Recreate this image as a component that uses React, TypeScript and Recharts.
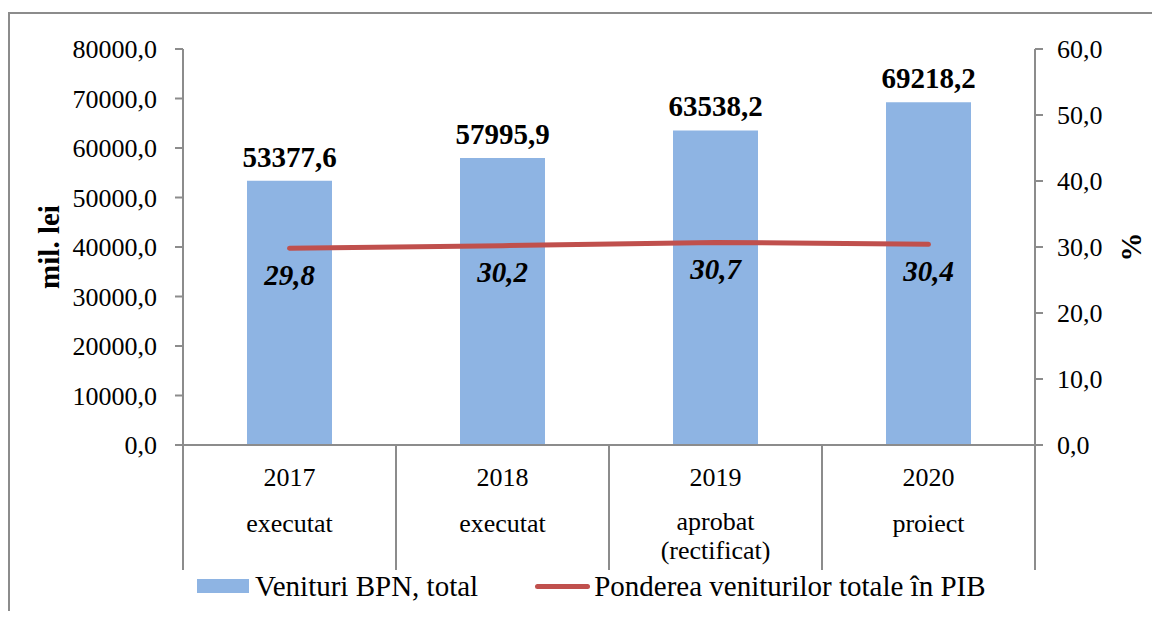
import React from 'react';
import {
  ComposedChart,
  Bar,
  Line,
  XAxis,
  YAxis,
  Legend,
  LabelList,
  Label,
} from 'recharts';

const categories = ['2017', '2018', '2019', '2020'];
const statusLabels = [['executat'], ['executat'], ['aprobat', '(rectificat)'], ['proiect']];
const revenues = [53377.6, 57995.9, 63538.2, 69218.2];
const gdpShare = [29.8, 30.2, 30.7, 30.4];
const leftTicks = [0, 10000, 20000, 30000, 40000, 50000, 60000, 70000, 80000];
const rightTicks = [0, 10, 20, 30, 40, 50, 60];
const barName = 'Venituri BPN, total';
const lineName = 'Ponderea veniturilor totale în PIB';
const leftAxisTitle = 'mil. lei';
const rightAxisTitle = '%';

const data = categories.map((c, i) => ({
  year: c,
  status: statusLabels[i],
  rev: revenues[i],
  share: gdpShare[i],
}));

const FONT = '"Liberation Serif", "Times New Roman", serif';
const BAR = '#8EB4E3';
const LINE = '#C0504D';
const AXIS = '#8C8C8C';

const fmt = (v: any) => Number(v).toFixed(1).replace('.', ',');

const XTick = (props: any) => {
  const { x, y, payload, index, visibleTicksCount, width } = props;
  const count = visibleTicksCount || categories.length;
  const half = width ? width / count / 2 : payload.offset || 0;
  const d = data[index] || { status: [] };
  const lx = x - half;
  const rx = x + half;
  const multi = d.status.length > 1;
  return (
    <g>
      <line x1={lx} y1={y} x2={lx} y2={y + 125} stroke={AXIS} strokeWidth={2} />
      {index === count - 1 && (
        <line x1={rx} y1={y} x2={rx} y2={y + 125} stroke={AXIS} strokeWidth={2} />
      )}
      <text x={x} y={y + 41} textAnchor="middle" fontFamily={FONT} fontSize={26} fill="#000">
        {payload.value}
      </text>
      {d.status.map((s: string, k: number) => (
        <text
          key={k}
          x={x}
          y={y + (multi ? 85 : 87) + k * 29}
          textAnchor="middle"
          fontFamily={FONT}
          fontSize={26}
          fill="#000"
        >
          {s}
        </text>
      ))}
    </g>
  );
};

const renderLegend = () => (
  <div
    style={{
      display: 'flex',
      alignItems: 'flex-start',
      height: 49,
      paddingLeft: 197,
      fontFamily: FONT,
      fontSize: 29,
      lineHeight: '32px',
      color: '#000',
      whiteSpace: 'nowrap',
      boxSizing: 'border-box',
    }}
  >
    <span style={{ display: 'inline-block', width: 52, height: 14, marginTop: 9, background: BAR }} />
    <span style={{ marginLeft: 6 }}>{barName}</span>
    <span
      style={{
        display: 'inline-block',
        width: 55,
        height: 5,
        marginTop: 14,
        marginLeft: 57,
        borderRadius: 3,
        background: LINE,
      }}
    />
    <span style={{ marginLeft: 4 }}>{lineName}</span>
  </div>
);

export default function App() {
  return (
    <div style={{ position: 'relative', width: 1160, height: 619, margin: -8, overflow: 'hidden', background: '#fff' }}>
      <div
        style={{
          position: 'absolute',
          left: 8,
          top: 12,
          width: 1300,
          height: 800,
          borderLeft: `2px solid ${AXIS}`,
          borderTop: `2px solid ${AXIS}`,
          pointerEvents: 'none',
        }}
      />
      <div style={{ position: 'absolute', left: 0, top: 0 }}>
        <ComposedChart
          width={1160}
          height={619}
          data={data}
          margin={{ top: 49, right: 0, bottom: 0, left: 0 }}
          style={{ fontFamily: FONT }}
        >
          <XAxis
            dataKey="year"
            xAxisId="x"
            height={125}
            stroke={AXIS}
            strokeWidth={2}
            tickLine={false}
            tickSize={0}
            tickMargin={0}
            interval={0}
            tick={<XTick />}
          />
          <YAxis
            yAxisId="left"
            orientation="left"
            width={183}
            domain={[0, 80000]}
            ticks={leftTicks}
            tickFormatter={fmt}
            stroke={AXIS}
            strokeWidth={2}
            tickSize={8}
            tickMargin={18}
            tick={{ fill: '#000', fontSize: 26, fontFamily: FONT }}
            interval={0}
          >
            <Label
              content={(p: any) => {
                const vb = p.viewBox || { x: 0, y: 49, width: 183, height: 396 };
                const cx = vb.x + 49;
                const cy = vb.y + vb.height / 2;
                return (
                  <text
                    x={cx}
                    y={cy}
                    transform={`rotate(-90 ${cx} ${cy})`}
                    textAnchor="middle"
                    dominantBaseline="central"
                    fontFamily={FONT}
                    fontWeight="bold"
                    fontSize={29}
                    fill="#000"
                  >
                    {leftAxisTitle}
                  </text>
                );
              }}
            />
          </YAxis>
          <YAxis
            yAxisId="right"
            orientation="right"
            width={125}
            domain={[0, 60]}
            ticks={rightTicks}
            tickFormatter={fmt}
            stroke={AXIS}
            strokeWidth={2}
            tickSize={8}
            tickMargin={14}
            tick={{ fill: '#000', fontSize: 26, fontFamily: FONT }}
            interval={0}
          >
            <Label
              content={(p: any) => {
                const vb = p.viewBox || { x: 1035, y: 49, width: 125, height: 396 };
                const cx = vb.x + 96;
                const cy = vb.y + vb.height / 2;
                return (
                  <text
                    x={cx}
                    y={cy}
                    transform={`rotate(-90 ${cx} ${cy})`}
                    textAnchor="middle"
                    dominantBaseline="central"
                    fontFamily={FONT}
                    fontWeight="bold"
                    fontSize={29}
                    fill="#000"
                  >
                    {rightAxisTitle}
                  </text>
                );
              }}
            />
          </YAxis>
          <Legend
            verticalAlign="bottom"
            height={49}
            content={renderLegend}
            wrapperStyle={{ left: 0, top: 570, bottom: 'auto', width: 1160, height: 49 }}
          />
          <Bar
            dataKey="rev"
            name={barName}
            xAxisId="x"
            yAxisId="left"
            fill={BAR}
            barSize={85}
            isAnimationActive={false}
          >
            <LabelList
              dataKey="rev"
              position="top"
              offset={14}
              formatter={fmt}
              style={{ fontFamily: FONT, fontWeight: 'bold', fontSize: 29, fill: '#000' }}
            />
          </Bar>
          <Line
            dataKey="share"
            name={lineName}
            xAxisId="x"
            yAxisId="right"
            type="linear"
            stroke={LINE}
            strokeWidth={5}
            strokeLinecap="round"
            dot={false}
            activeDot={false}
            isAnimationActive={false}
          >
            <LabelList
              dataKey="share"
              position="bottom"
              offset={16}
              formatter={fmt}
              style={{ fontFamily: FONT, fontWeight: 'bold', fontStyle: 'italic', fontSize: 29, fill: '#000' }}
            />
          </Line>
        </ComposedChart>
      </div>
    </div>
  );
}
